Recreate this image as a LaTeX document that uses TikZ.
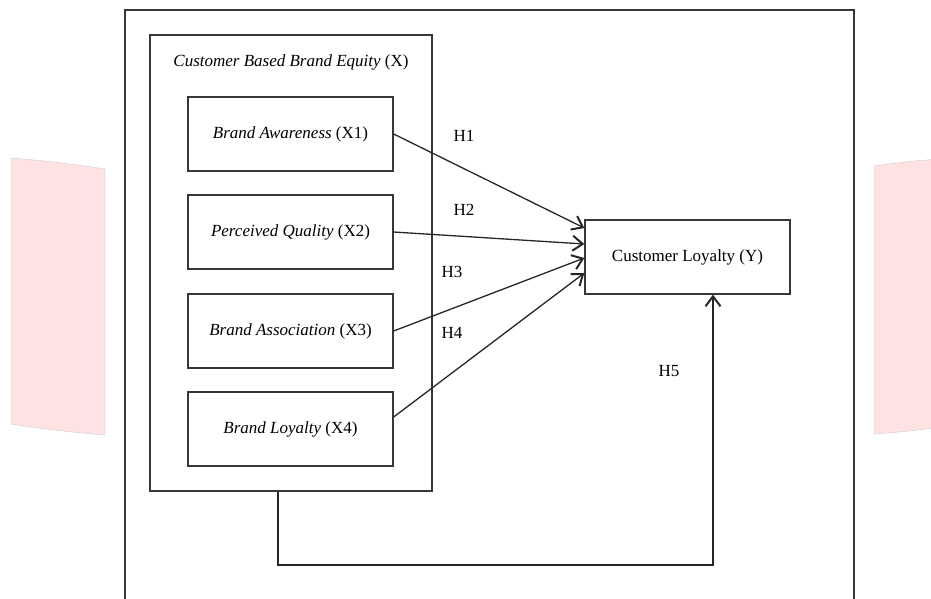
\documentclass[tikz,border=0pt]{standalone}
\usepackage{fontspec}
\setmainfont{Liberation Serif}
\usetikzlibrary{arrows.meta}
\definecolor{pagepink}{RGB}{255,226,226}
\definecolor{linegray}{RGB}{55,55,55}

\begin{document}
\begin{tikzpicture}[x=1pt,y=-1pt,
    box/.style={draw=linegray, line width=1.3pt, minimum width=205pt, minimum height=74pt, inner sep=0pt},
    arr/.style={draw=black!85, line width=1.3pt, -{Straight Barb[length=10pt,width=15pt,line width=2pt]}},
    lbl/.style={font=\fontsize{17}{20}\selectfont}]
        \useasboundingbox (0,0) rectangle (931,599);
        \clip (0,0) rectangle (931,599);
        % page shapes at the sides
        \fill[pagepink, draw=black!20, line width=0.4pt] (11,158) to[bend left=2] (105,169) -- (105,435) to[bend left=2] (11,424) -- cycle;
        \fill[pagepink, draw=black!20, line width=0.4pt] (874,166) to[bend left=2] (940,159) -- (940,427) to[bend left=2] (874,434) -- cycle;
        % outer frame
        \draw[linegray, line width=1.5pt] (125,620) -- (125,10) -- (854,10) -- (854,620);
        % variables
        \node[box, minimum width=282pt, minimum height=456pt] (cbbe) at (291,263) {};
        \node[lbl] (title) at (291,62) {\textit{Customer Based Brand Equity} (X)};
        \node[box, lbl] (ba) at (290.5,134) {\textit{Brand Awareness} (X1)};
        \node[box, lbl] (pq) at (290.5,232) {\textit{Perceived Quality} (X2)};
        \node[box, lbl] (bas) at (290.5,331) {\textit{Brand Association} (X3)};
        \node[box, lbl] (bl) at (290.5,429) {\textit{Brand Loyalty} (X4)};
        \node[box, lbl] (cl) at (687.5,257) {Customer Loyalty (Y)};
        % hypotheses
        \draw[arr] (ba.east) -- ([yshift=29pt]cl.west);
        \draw[arr] (pq.east) -- ([yshift=13pt]cl.west);
        \draw[arr] (bas.east) -- ([yshift=-1pt]cl.west);
        \draw[arr] ([yshift=12pt]bl.east) -- ([yshift=-16pt]cl.west);
        \coordinate (fbl) at (278,565);
        \coordinate (fbr) at (713,565);
        \draw[arr] (cbbe.south -| fbl) |- (fbr) -- (cl.south -| fbr);
        \node[lbl] (h1) at (464,136) {H1};
        \node[lbl] (h2) at (464,210) {H2};
        \node[lbl] (h3) at (452,272) {H3};
        \node[lbl] (h4) at (452,333) {H4};
        \node[lbl] (h5) at (669,371) {H5};
\end{tikzpicture}
\end{document}
